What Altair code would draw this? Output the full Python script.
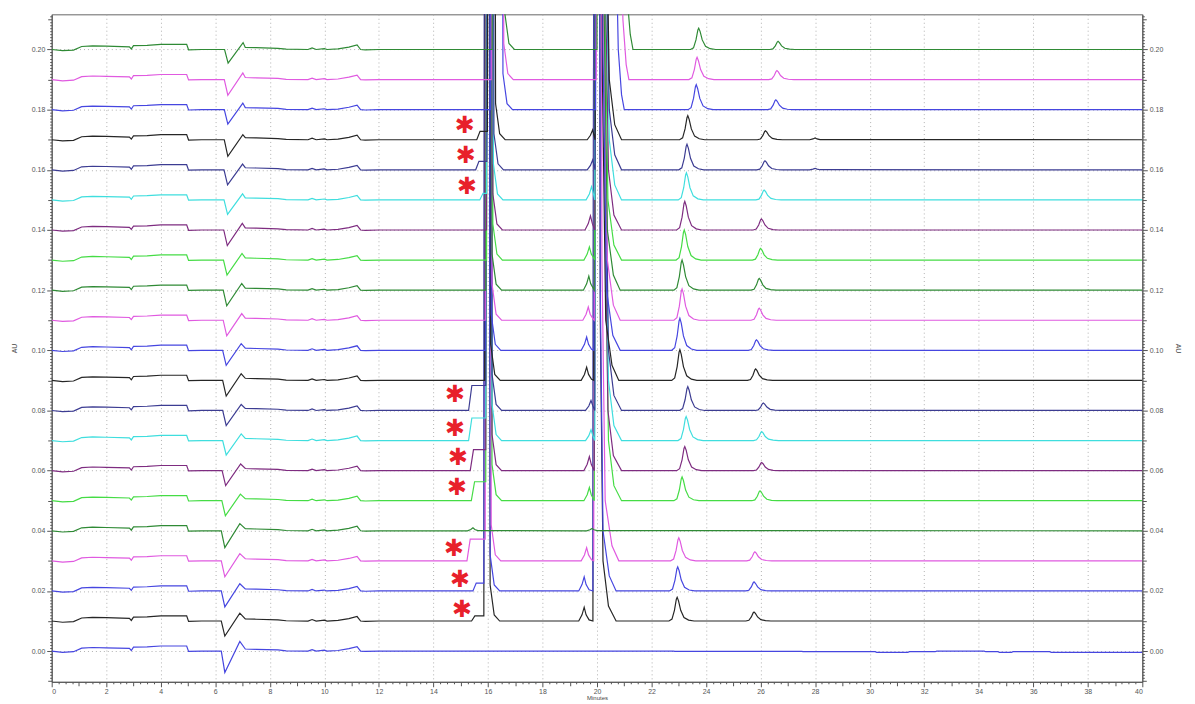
import altair as alt
import pandas as pd

# ---------------- data ----------------
OFFSETS = [0.00, 0.01, 0.02, 0.03, 0.04, 0.05, 0.06, 0.07, 0.08, 0.09, 0.10,
           0.11, 0.12, 0.13, 0.14, 0.15, 0.16, 0.17, 0.18, 0.19, 0.20]

BLACK, BLUE, MAGENTA, DKGREEN = "#262626", "#4646e0", "#e05ae0", "#2f8a35"
LTGREEN, PURPLE, CYAN, INDIGO = "#45dc45", "#7e2c80", "#3fdede", "#3c3c92"
COLORS = [BLUE, BLACK, BLUE, MAGENTA, DKGREEN, LTGREEN, PURPLE, CYAN, INDIGO,
          BLACK, BLUE, MAGENTA, DKGREEN, LTGREEN, PURPLE, CYAN, INDIGO,
          BLACK, BLUE, MAGENTA, DKGREEN]

# common early baseline (injection region), relative to each trace offset
BASE_A_T = [0.0, 0.4, 0.8, 1.1, 1.5, 2.0, 2.85, 2.92, 3.0, 3.5, 4.0, 4.95, 5.02, 5.5, 6.15]
BASE_A_Y = [0.0, -0.0004, -0.0002, 0.0010, 0.0012, 0.0011, 0.0009, 0.0002, 0.0013,
            0.0014, 0.0017, 0.0017, -0.0001, 0.0, 0.0]
BASE_B_T = [7.1, 7.5, 8.3, 8.6, 9.4, 9.55, 9.7, 10.0, 10.1, 10.5, 10.9, 11.2, 11.33, 11.5, 12.0]
BASE_B_Y = [0.0007, 0.0006, 0.0004, 0.0001, 0.0, 0.0005, 0.0, 0.0003, 0.0, 0.0002,
            0.0008, 0.0015, 0.0, -0.0001, 0.0]

DIP_TIME = [6.35, 6.35, 6.35, 6.35, 6.35, 6.37, 6.38, 6.4, 6.4, 6.4, 6.4,
            6.42, 6.42, 6.43, 6.44, 6.45, 6.45, 6.46, 6.46, 6.46, 6.47]
DIP_DEPTH = [0.0071, 0.0050, 0.0053, 0.0053, 0.0056, 0.0050, 0.0050, 0.0048, 0.0050,
             0.0052, 0.0050, 0.0052, 0.0052, 0.0050, 0.0052, 0.0048, 0.0050, 0.0055,
             0.0048, 0.0052, 0.0045]
RISE_H = [0.0032, 0.0026, 0.0024, 0.0024, 0.0024, 0.0022, 0.0022, 0.0022, 0.0020,
          0.0022, 0.0022, 0.0022, 0.0022, 0.0022, 0.0022, 0.0020, 0.0019, 0.0017,
          0.0022, 0.0022, 0.0023]

# shoulder (marked with *) before the first main peak
SH_T = [0, 15.40, 15.45, 15.23, 0, 15.39, 15.35, 15.29, 15.29, 0, 0,
        0, 0, 0, 0, 15.70, 15.55, 15.59, 0, 0, 0]
SH_H = [0, 0.0017, 0.0026, 0.0072, 0, 0.0063, 0.0070, 0.0075, 0.0083, 0, 0,
        0, 0, 0, 0, 0.0022, 0.0028, 0.0028, 0, 0, 0]

# first main peak (~16 min, off scale)
P1_RISE = [0, 15.85, 15.85, 15.90, 0, 15.92, 15.92, 15.92, 15.92, 15.88, 15.90,
           15.90, 15.92, 15.95, 15.95, 15.95, 15.96, 15.98, 16.10, 16.12, 16.15]
P1_APEX = [0, 15.95, 15.95, 16.00, 0, 16.02, 16.02, 16.03, 16.03, 15.98, 16.00,
           16.02, 16.03, 16.05, 16.05, 16.06, 16.08, 16.10, 16.35, 16.38, 16.42]
P1_FALL = [0, 16.08, 16.08, 16.12, 0, 16.15, 16.15, 16.15, 16.15, 16.10, 16.12,
           16.15, 16.15, 16.18, 16.18, 16.20, 16.22, 16.28, 16.55, 16.58, 16.62]

# small peak before the second main peak (~19.5 min)
P195_T = [0, 19.53, 19.53, 19.62, 19.82, 19.72, 19.72, 19.78, 19.78, 19.62, 19.62,
          19.68, 19.70, 19.72, 19.76, 19.80, 19.84, 19.84, 0, 0, 0]
P195_H = [0, 0.0046, 0.0047, 0.0044, 0.0008, 0.0044, 0.0047, 0.0036, 0.0033, 0.0044,
          0.0044, 0.0044, 0.0047, 0.0044, 0.0047, 0.0044, 0.0033, 0.0033, 0, 0, 0]

# second main peak (~20 min, off scale, tailing)
P2_RISE = [0, 19.85, 19.85, 19.88, 0, 19.90, 19.90, 19.92, 19.92, 19.88, 19.88,
           19.90, 19.90, 19.92, 19.92, 19.92, 19.93, 19.93, 19.95, 19.97, 20.00]
P2_APEX = [0, 19.98, 19.98, 20.00, 0, 20.02, 20.02, 20.04, 20.04, 20.00, 20.00,
           20.02, 20.02, 20.04, 20.04, 20.04, 20.05, 20.05, 20.10, 20.12, 20.15]
P2_F1 = [0, 20.12, 20.12, 20.18, 0, 20.30, 20.28, 20.30, 20.30, 20.20, 20.22,
         20.25, 20.25, 20.28, 20.28, 20.30, 20.30, 20.30, 20.60, 20.75, 20.95]
P2_F2 = [0, 20.22, 20.22, 20.30, 0, 20.42, 20.40, 20.42, 20.42, 20.32, 20.35,
         20.38, 20.38, 20.40, 20.42, 20.45, 20.45, 20.45, 20.78, 20.95, 21.08]
P2_F3 = [0, 20.42, 20.45, 20.55, 0, 20.62, 20.60, 20.62, 20.62, 20.55, 20.58,
         20.60, 20.60, 20.62, 20.62, 20.65, 20.65, 20.65, 20.90, 21.07, 21.22]
P2_END = [0, 20.70, 20.70, 20.80, 0, 20.90, 20.90, 20.90, 20.90, 20.80, 20.85,
          20.85, 20.85, 20.90, 20.90, 20.90, 20.90, 20.90, 21.00, 21.17, 21.32]

# peak at ~23 min
P23_T = [0, 22.94, 22.96, 23.00, 0, 23.12, 23.22, 23.27, 23.33, 23.04, 23.04,
         23.12, 23.12, 23.20, 23.22, 23.28, 23.30, 23.33, 23.64, 23.67, 23.73]
P23_H = [0, 0.0079, 0.0080, 0.0077, 0, 0.0079, 0.0080, 0.0080, 0.0079, 0.0102, 0.0106,
         0.0104, 0.0100, 0.0100, 0.0095, 0.0090, 0.0085, 0.0080, 0.0083, 0.0074, 0.0071]
# peak at ~26 min
P26_T = [0, 25.76, 25.76, 25.79, 0, 25.98, 26.04, 26.04, 26.10, 25.82, 25.85,
         25.95, 25.95, 26.00, 26.03, 26.13, 26.16, 26.18, 26.56, 26.60, 26.64]
P26_H = [0, 0.0030, 0.0030, 0.0030, 0, 0.0033, 0.0027, 0.0030, 0.0025, 0.0038, 0.0035,
         0.0040, 0.0039, 0.0039, 0.0037, 0.0033, 0.0030, 0.0030, 0.0033, 0.0030, 0.0027]

# tiny extra bumps (trace index -> [(time, height)])
EXTRA_PEAKS = {4: [(15.45, 0.0010)], 16: [(28.0, 0.0005)], 17: [(28.0, 0.0006)]}

# baseline steps of the blank trace (0.00) late in the run
ZERO_STEP_T = [22.8, 27.5, 30.2, 31.4, 32.4, 34.2, 34.7, 35.2, 36.6]
ZERO_STEP_Y = [-0.0001, -0.0002, -0.0004, -0.0002, 0.0, -0.0002, -0.0004, -0.0002, -0.0004]

# peak profile read from the ~23 min peak (time offset, fraction of height)
PEAK_DT = [-0.30, -0.19, -0.10, -0.03, 0.0, 0.05, 0.13, 0.25, 0.42, 0.62]
PEAK_FRAC = [0.0, 0.08, 0.45, 0.92, 1.0, 0.85, 0.45, 0.15, 0.04, 0.0]
SMALL_DT = [-0.20, -0.08, 0.0, 0.07, 0.18]
SMALL_FRAC = [0.0, 0.45, 1.0, 0.45, 0.08]

# red asterisk annotations (minutes, AU)
AST_T = [15.15, 15.19, 15.23, 14.79, 14.79, 14.90, 14.86, 14.75, 14.97, 15.05]
AST_Y = [0.1749, 0.1650, 0.1545, 0.0855, 0.0743, 0.0644, 0.0545, 0.0343, 0.0241, 0.0139]

Y_DOMAIN = [-0.0102, 0.2117]
X_DOMAIN = [0, 40]


# ---------------- build the table ----------------
def trace_points(i):
    pts = list(zip(BASE_A_T, BASE_A_Y))
    d = DIP_TIME[i]
    pts += [(d - 0.13, 0.0), (d, -DIP_DEPTH[i]), (d + 0.55, RISE_H[i])]
    pts += list(zip(BASE_B_T, BASE_B_Y))
    late = []
    if SH_H[i] > 0:
        late += [(SH_T[i], 0.0), (SH_T[i] + 0.12, SH_H[i]), (P1_RISE[i] - 0.05, SH_H[i])]
    if P1_APEX[i] > 0:
        base = SH_H[i]
        late += [(P1_RISE[i], base), (P1_APEX[i], 1.0), (P1_FALL[i], 0.012),
                 (P1_FALL[i] + 0.15, 0.002), (P1_FALL[i] + 0.35, 0.0)]
    if P195_H[i] > 0:
        limit = P2_RISE[i] - 0.02 if P2_APEX[i] > 0 else 99
        for dt, f in zip(SMALL_DT, SMALL_FRAC):
            if P195_T[i] + dt < limit:
                late.append((P195_T[i] + dt, P195_H[i] * f))
    if P2_APEX[i] > 0:
        late += [(P2_RISE[i], 0.0), (P2_APEX[i], 1.0), (P2_F1[i], 0.1), (P2_F2[i], 0.02),
                 (P2_F3[i], 0.005), (P2_END[i], 0.0)]
    for pt, ph in ((P23_T[i], P23_H[i]), (P26_T[i], P26_H[i])):
        if ph > 0:
            late += [(pt + dt, ph * f) for dt, f in zip(PEAK_DT, PEAK_FRAC)]
    for pt, ph in EXTRA_PEAKS.get(i, []):
        late += [(pt + dt, ph * f) for dt, f in zip(SMALL_DT, SMALL_FRAC)]
    if i == 0:
        prev = 0.0
        for st, sy in zip(ZERO_STEP_T, ZERO_STEP_Y):
            late += [(st, prev), (st + 0.06, sy)]
            prev = sy
        late.append((40.0, prev))
    else:
        late.append((40.0, 0.0))
    late.sort(key=lambda p: p[0])
    return pts + late


rows = []
for i, off in enumerate(OFFSETS):
    for k, (t, r) in enumerate(trace_points(i)):
        rows.append({"t": t, "y": off + r, "trace": f"T{i:02d}", "seq": k})
df = pd.DataFrame(rows)
names = [f"T{i:02d}" for i in range(len(OFFSETS))]

ast_df = pd.DataFrame({"t": AST_T, "y": AST_Y})
axis_df = pd.DataFrame({"v": [0.0, 0.2]})

# ---------------- axes ----------------
FONT = "Liberation Sans"
y_vals = [round(-0.010 + 0.001 * k, 3) for k in range(222)]
x_vals = [0.25 * k for k in range(161)]
y_major = "abs(datum.value*50 - round(datum.value*50)) < 0.001"
y_mid = "abs(datum.value*100 - round(datum.value*100)) < 0.001"
x_major = "abs(datum.value/2 - round(datum.value/2)) < 0.001"
x_mid = "abs(datum.value - round(datum.value)) < 0.001"


def y_axis(orient, title_pad):
    return alt.Axis(
        orient=orient, values=y_vals, title="AU", titleFontSize=7, titleFont=FONT,
        titleFontWeight="normal", titleColor="#444", titlePadding=title_pad,
        labelExpr=f"{y_major} ? format(datum.value, '.2f') : ''",
        labelOverlap=False, labelFontSize=7, labelFont=FONT, labelColor="#555",
        labelPadding=2,
        tickSize={"condition": [{"test": y_major, "value": 5}, {"test": y_mid, "value": 4}],
                  "value": 2},
        tickColor="#555", domainColor="#555",
        grid=(orient == "left"), gridDash=[1, 3], gridColor="#b0b0b0",
        gridOpacity={"condition": {"test": y_major, "value": 1}, "value": 0},
    )


x_axis = alt.Axis(
    values=x_vals, title="Minutes", titleFontSize=6, titleFont=FONT,
    titleFontWeight="normal", titleColor="#444", titlePadding=0,
    labelExpr=f"{x_major} ? format(datum.value, 'd') : ''",
    labelOverlap=False, labelFontSize=7, labelFont=FONT, labelColor="#555", labelPadding=1,
    tickSize={"condition": [{"test": x_major, "value": 5}, {"test": x_mid, "value": 4}],
              "value": 2},
    tickColor="#555", domainColor="#555",
    grid=True, gridDash=[1, 3], gridColor="#b0b0b0",
    gridOpacity={"condition": {"test": x_major, "value": 1}, "value": 0},
)

xs = alt.Scale(domain=X_DOMAIN, nice=False, zero=False)
ys = alt.Scale(domain=Y_DOMAIN, nice=False, zero=False)

lines = alt.Chart(df).mark_line(clip=True, strokeWidth=1.2).encode(
    x=alt.X("t:Q", scale=xs, axis=x_axis),
    y=alt.Y("y:Q", scale=ys, axis=y_axis("left", 14)),
    color=alt.Color("trace:N", scale=alt.Scale(domain=names, range=COLORS), legend=None),
    order=alt.Order("seq:Q"),
)

right_axis = alt.Chart(axis_df).mark_tick(opacity=0).encode(
    y=alt.Y("v:Q", scale=ys, axis=y_axis("right", 12)),
)

stars = alt.Chart(ast_df).mark_text(
    text="\u2731", color="#e8202a", fontSize=24, font="DejaVu Sans",
    baseline="middle", align="center", dy=1,
).encode(
    x=alt.X("t:Q", scale=xs, axis=x_axis),
    y=alt.Y("y:Q", scale=ys, axis=None),
)

chart = alt.layer(lines, right_axis, stars).resolve_axis(y="independent").properties(
    width=1098, height=672,
    autosize=alt.AutoSizeParams(type="none"),
    padding={"left": 44, "top": 4, "right": 45, "bottom": 20},
).configure_view(stroke="#666", strokeWidth=1)

chart.save("out.html", embed_options={"renderer": "svg", "actions": False})
